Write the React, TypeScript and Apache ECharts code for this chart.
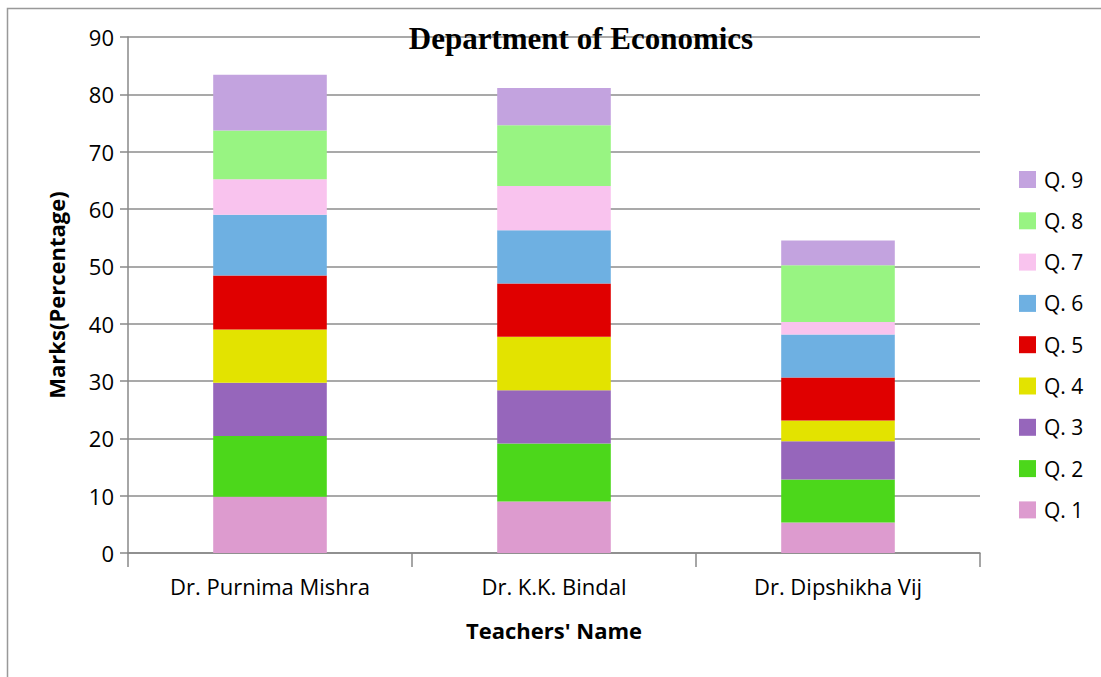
import React, { useEffect, useRef } from "react";
import * as echarts from "echarts";

const teachers = ["Dr. Purnima Mishra", "Dr. K.K. Bindal", "Dr. Dipshikha Vij"];
const questions = ["Q. 1", "Q. 2", "Q. 3", "Q. 4", "Q. 5", "Q. 6", "Q. 7", "Q. 8", "Q. 9"];
const q1 = [9.8, 9.0, 5.3];
const q2 = [10.6, 10.1, 7.5];
const q3 = [9.3, 9.3, 6.7];
const q4 = [9.3, 9.3, 3.6];
const q5 = [9.4, 9.3, 7.5];
const q6 = [10.6, 9.3, 7.5];
const q7 = [6.2, 7.7, 2.2];
const q8 = [8.5, 10.6, 9.9];
const q9 = [9.7, 6.5, 4.3];
const seriesValues = [q1, q2, q3, q4, q5, q6, q7, q8, q9];
const colors = ["#DD9BCF", "#4CD71B", "#9666BB", "#E3E300", "#E00000", "#6EB0E2", "#F9C3EE", "#98F482", "#C3A3DF"];
const yTicks = [0, 10, 20, 30, 40, 50, 60, 70, 80, 90];

const FONT = "Open Sans";

export default function App() {
  const ref = useRef<HTMLDivElement>(null);
  useEffect(() => {
    if (!ref.current) return;
    const chart = echarts.init(ref.current, null, { renderer: "svg" });
    chart.setOption({
      animation: false,
      backgroundColor: "#ffffff",
      color: colors,
      title: {
        text: "Department of Economics",
        left: 576,
        textAlign: "center",
        top: 18,
        textStyle: { fontFamily: "Liberation Serif", fontWeight: "bold", fontSize: 31, color: "#000" },
      },
      graphic: [
        {
          type: "rect",
          shape: { x: 7.5, y: 8.5, width: 1200, height: 800 },
          style: { fill: "none", stroke: "#999", lineWidth: 1.5 },
          z: -1,
        },
      ],
      legend: {
        orient: "vertical",
        left: 1014,
        top: 164,
        itemWidth: 17,
        itemHeight: 17,
        itemGap: 20.3,
        icon: "rect",
        data: questions.slice().reverse(),
        textStyle: { fontFamily: FONT, fontSize: 21, color: "#000", padding: [0, 0, 0, 3] },
      },
      grid: { left: 128, right: 121, top: 37, bottom: 124 },
      xAxis: {
        type: "category",
        data: teachers,
        name: "Teachers' Name",
        nameLocation: "middle",
        nameGap: 66,
        nameTextStyle: { fontFamily: FONT, fontWeight: "bold", fontSize: 22, color: "#000" },
        axisLine: { lineStyle: { color: "#888", width: 1.5 } },
        axisTick: { show: true, length: 14, lineStyle: { color: "#888", width: 1.5 } },
        axisLabel: { fontFamily: FONT, fontSize: 22, color: "#000", margin: 22 },
      },
      yAxis: {
        type: "value",
        min: 0,
        max: 90,
        interval: 10,
        name: "Marks(Percentage)",
        nameLocation: "middle",
        nameGap: 61,
        nameTextStyle: { fontFamily: FONT, fontWeight: "bold", fontSize: 22, color: "#000" },
        axisLine: { show: true, lineStyle: { color: "#888", width: 1.5 } },
        axisTick: { show: true, length: 8, lineStyle: { color: "#888", width: 1.5 } },
        axisLabel: {
          fontFamily: FONT,
          fontSize: 22,
          color: "#000",
          margin: 14,
          formatter: (v: number) => (yTicks.includes(v) ? String(v) : ""),
        },
        splitLine: { lineStyle: { color: "#8c8c8c", width: 1.5 } },
      },
      series: questions.map((q, i) => ({
        name: q,
        type: "bar",
        stack: "total",
        barWidth: "40%",
        data: seriesValues[i],
        itemStyle: { color: colors[i] },
      })),
    });
    return () => chart.dispose();
  }, []);
  return <div ref={ref} style={{ position: "absolute", left: 0, top: 0, width: 1101, height: 677 }} />;
}
